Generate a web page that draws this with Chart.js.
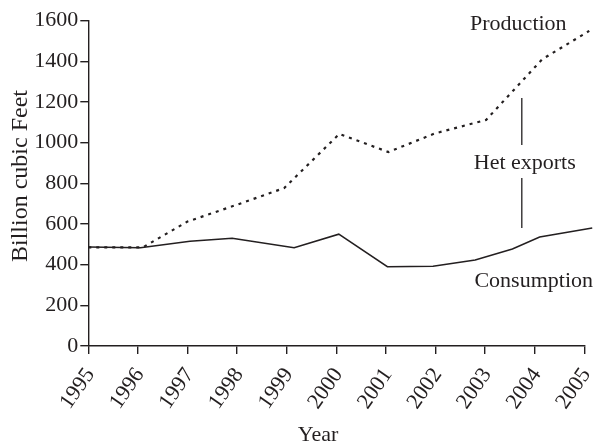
<!DOCTYPE html>
<html><head><meta charset="utf-8">
<script src="https://cdn.jsdelivr.net/npm/chart.js@4"></script>
<style>html,body{margin:0;padding:0;background:#fff}#wrap{width:594px;height:442px}</style>
</head><body><div id="wrap"><canvas id="c" width="594" height="442"></canvas></div>
<script>
// ---- data ----
const yearTicks = [1995, 1996, 1997, 1998, 1999, 2000, 2001, 2002, 2003, 2004, 2005];
const valueTicks = [0, 200, 400, 600, 800, 1000, 1200, 1400, 1600];
const productionX = [1995, 1996.1, 1997, 1998, 1998.95, 2000.06, 2001.05, 2001.98, 2003.02, 2004.15, 2005.1];
const productionY = [485, 485, 612, 695, 777, 1043, 954, 1045, 1112, 1410, 1550];
const consumptionX = [1995, 1996.05, 1997.05, 1997.9, 1999.15, 2000.05, 2001.03, 2001.95, 2002.8, 2003.55, 2004.1, 2005.16];
const consumptionY = [487, 483, 515, 530, 483, 550, 390, 392, 423, 477, 536, 580];
const seriesNames = ['Production', 'Consumption'];
const exportsLabel = 'Het exports';
const exportsYear = 2003.74;
const exportsSegments = [[1220, 989], [826, 580]];
const labelPos = { Production: [2003.67, 1584], 'Het exports': [2003.8, 900], Consumption: [2003.98, 320] };
const xTitle = 'Year';
const yTitle = 'Billion cubic Feet';

const FONT = "'Liberation Serif', 'Times New Roman', serif";
const INK = '#231f20';

const annot = {
  id: 'annot',
  afterDatasetsDraw(chart) {
    const ctx = chart.ctx, xs = chart.scales.x, ys = chart.scales.y;
    ctx.save();
    ctx.strokeStyle = INK; ctx.lineWidth = 1.3;
    const px = xs.getPixelForValue(exportsYear);
    exportsSegments.forEach(([a, b]) => {
      ctx.beginPath();
      ctx.moveTo(px, ys.getPixelForValue(a));
      ctx.lineTo(px, ys.getPixelForValue(b));
      ctx.stroke();
    });
    ctx.fillStyle = INK;
    ctx.font = '22px ' + FONT;
    ctx.textAlign = 'center'; ctx.textBaseline = 'middle';
    Object.entries(labelPos).forEach(([t, [x, y]]) => {
      ctx.fillText(t, xs.getPixelForValue(x), ys.getPixelForValue(y));
    });
    // axis titles
    ctx.textBaseline = 'alphabetic';
    ctx.fillText(xTitle, 318, 441);
    ctx.translate(27, 176);
    ctx.rotate(-Math.PI / 2);
    ctx.font = '24px ' + FONT;
    ctx.fillText(yTitle, 0, 0);
    ctx.restore();
  }
};

const axisCommon = {
  grid: { drawOnChartArea: false, drawTicks: true, tickLength: 8, color: INK, lineWidth: 1.4 },
  border: { display: true, color: INK, width: 1.4 },
};

new Chart(document.getElementById('c'), {
  type: 'line',
  data: {
    datasets: [
      {
        label: seriesNames[0],
        data: productionX.map((x, i) => ({ x, y: productionY[i] })),
        borderColor: INK, borderWidth: 2.2, borderDash: [3, 5], pointRadius: 0, tension: 0, clip: false
      },
      {
        label: seriesNames[1],
        data: consumptionX.map((x, i) => ({ x, y: consumptionY[i] })),
        borderColor: INK, borderWidth: 1.5, pointRadius: 0, tension: 0, clip: false
      }
    ]
  },
  options: {
    responsive: false, animation: false, devicePixelRatio: 1,
    layout: { padding: { top: 20.7, right: 9.7, left: 0, bottom: 0 } },
    plugins: { legend: { display: false }, tooltip: { enabled: false } },
    scales: {
      x: {
        type: 'linear', min: 1995, max: 2005,
        afterBuildTicks: s => { s.ticks = yearTicks.map(v => ({ value: v })); },
        afterFit: s => { s.height = 96; s.paddingLeft = 0; s.paddingRight = 0; },
        ticks: { callback: v => String(v), minRotation: 55, maxRotation: 55, autoSkip: false, padding: 9, labelOffset: 2, color: INK, font: { family: FONT, size: 22 } },
        ...axisCommon
      },
      y: {
        min: 0, max: 1600,
        afterBuildTicks: s => { s.ticks = valueTicks.map(v => ({ value: v })); },
        afterFit: s => { s.width = 88.3; },
        ticks: { callback: v => String(v), padding: 2, color: INK, font: { family: FONT, size: 22 } },
        ...axisCommon
      }
    }
  },
  plugins: [annot]
});
</script></body></html>
